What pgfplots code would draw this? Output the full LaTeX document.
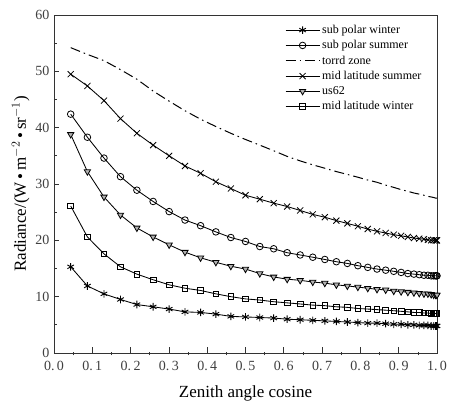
\documentclass[border=0pt]{standalone}
\usepackage{pgfplots}
\pgfplotsset{compat=1.18}
\usepackage{pgfplotstable}
\usepackage{fontspec}
\setmainfont{Liberation Serif}
\pgfplotstableread{
x spw sps tz mls us mlw
0.0436 15.3 42.4 54.2 49.5 38.8 26.1
0.0872 11.9 38.3 53.0 47.4 32.2 20.6
0.1305 10.5 34.6 51.9 44.8 27.7 17.6
0.1736 9.5 31.3 50.3 41.6 24.5 15.3
0.2164 8.6 28.9 48.6 39.0 22.2 14.0
0.2588 8.2 26.9 46.5 36.9 20.6 13.0
0.3007 7.8 25.1 44.7 35.0 19.2 12.1
0.3420 7.3 23.6 43.0 33.2 17.9 11.5
0.3827 7.2 22.6 41.5 31.9 16.9 11.1
0.4226 6.9 21.5 40.2 30.4 16.1 10.5
0.4617 6.5 20.5 39.0 29.2 15.4 10.0
0.5000 6.4 19.8 37.9 28.0 14.9 9.6
0.5373 6.3 18.9 36.9 27.3 14.1 9.4
0.5736 6.2 18.5 35.9 26.6 13.5 9.1
0.6088 6.0 17.8 34.9 26.0 13.1 8.9
0.6428 5.9 17.4 34.1 25.3 12.9 8.7
0.6756 5.8 17.0 33.4 24.6 12.6 8.5
0.7071 5.7 16.6 32.8 24.1 12.4 8.4
0.7373 5.6 16.2 32.2 23.5 12.1 8.2
0.7660 5.5 15.9 31.7 23.0 11.9 8.1
0.7934 5.4 15.5 31.2 22.5 11.7 7.9
0.8192 5.3 15.2 30.7 22.0 11.5 7.8
0.8434 5.3 14.9 30.3 21.6 11.3 7.7
0.8660 5.2 14.7 29.8 21.3 11.2 7.6
0.8870 5.1 14.5 29.4 21.0 11.0 7.5
0.9063 5.1 14.3 29.0 20.8 10.9 7.4
0.9239 5.0 14.1 28.7 20.6 10.8 7.3
0.9397 5.0 14.0 28.4 20.4 10.7 7.2
0.9537 4.9 13.9 28.2 20.3 10.6 7.2
0.9659 4.9 13.8 28.0 20.2 10.5 7.1
0.9763 4.9 13.8 27.8 20.1 10.5 7.1
0.9848 4.8 13.7 27.7 20.0 10.4 7.0
0.9914 4.8 13.7 27.6 20.0 10.3 7.0
0.9962 4.8 13.7 27.5 20.0 10.3 7.0
0.9990 4.8 13.7 27.5 20.0 10.3 7.0
1.0000 4.8 13.7 27.5 20.0 10.3 7.0
}\data
\begin{document}
\begin{tikzpicture}
\begin{axis}[
  scale only axis,
  width=383pt, height=338pt,
  xmin=0, xmax=1, ymin=0, ymax=60,
  xtick={0,0.1,0.2,0.3,0.4,0.5,0.6,0.7,0.8,0.9,1.0},
  xticklabels={0.\,0,0.\,1,0.\,2,0.\,3,0.\,4,0.\,5,0.\,6,0.\,7,0.\,8,0.\,9,1.\,0},
  minor xtick={0.05,0.15,...,0.95},
  ytick={0,10,...,60},
  minor ytick={5,15,...,55},
  xtick pos=bottom, ytick pos=left,
  tick align=inside,
  major tick length=5.5pt, minor tick length=3.5pt,
  minor x tick style={yshift=-2.5pt},
  /pgf/number format/assume math mode=true,
  ticklabel style={font=\fontsize{14}{16}\selectfont, text=black!75},
  xticklabel style={yshift=-5pt},
  yticklabel style={xshift=-1pt},
  xlabel={Zenith angle cosine},
  ylabel={Radiance/(W\,\textbullet\,m$^{-2}$\,\textbullet\,sr$^{-1}$)},
  label style={font=\fontsize{17}{19}\selectfont},
  xlabel style={yshift=-8pt},
  ylabel style={yshift=-1pt},
  axis line style={line width=0.8pt, black!80},
  every tick/.style={line width=0.7pt, black!80},
  legend cell align=left,
  legend style={draw=none, fill=none, at={(0.595,1)}, anchor=north west, xshift=0pt, yshift=-8pt,
     font=\fontsize{12}{13}\selectfont, row sep=5.5pt,
     nodes={inner xsep=2pt, inner ysep=0pt}},
  legend image code/.code={\draw[mark repeat=2,mark phase=2,#1] plot coordinates {(0pt,0pt) (17pt,0pt) (34pt,0pt)};},
  every axis plot/.append style={line width=0.85pt, black},
]
\addplot[mark=asterisk, mark size=3.8pt, mark options={line width=0.9pt}] table[x=x,y=spw]{\data};
\addlegendentry{sub polar winter}
\addplot[mark=o, mark size=3.3pt, mark options={line width=0.8pt, fill=none}] table[x=x,y=sps]{\data};
\addlegendentry{sub polar summer}
\addplot[dash pattern=on 10pt off 4pt on 1.5pt off 4pt, line width=1pt] table[x=x,y=tz]{\data};
\addlegendentry{torrd zone}
\addplot[mark=x, mark size=4.3pt, mark options={line width=0.8pt}] table[x=x,y=mls]{\data};
\addlegendentry{mid latitude summer}
\addplot[mark=triangle*, mark size=3.6pt, mark options={rotate=180, line width=0.8pt, fill=gray!60}] table[x=x,y=us]{\data};
\addlegendentry{us62}
\addplot[mark=square, mark size=2.8pt, mark options={line width=0.8pt, fill=none}] table[x=x,y=mlw]{\data};
\addlegendentry{mid latitude winter}
\end{axis}
\pgfresetboundingbox
\path (current axis.south west) +(-54pt,-49pt) (current axis.north east) +(13pt,15pt);
\end{tikzpicture}
\end{document}
